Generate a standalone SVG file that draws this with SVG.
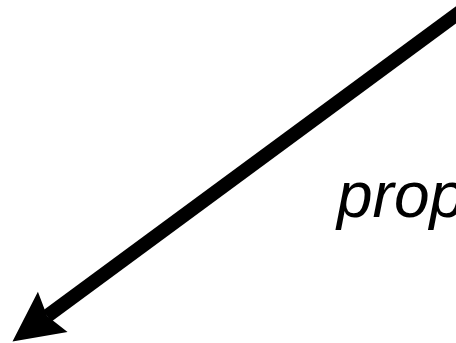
<svg xmlns="http://www.w3.org/2000/svg" width="456" height="343" viewBox="0 0 456 343">
  <style>
    .edge { stroke: #000; stroke-width: 14; fill: none; }
    .lbl { font-family: "Liberation Sans", Arial, sans-serif; font-style: italic; font-size: 64px; fill: #000; }
  </style>
  <defs>
    <marker id="head" markerUnits="userSpaceOnUse" markerWidth="100" markerHeight="100" refX="0" refY="0" orient="auto" overflow="visible">
      <path d="M43,0 L-7,-25 L0,0 L-7,25 Z" fill="#000"/>
    </marker>
  </defs>
  <rect width="456" height="343" fill="#fff"/>
  <g id="connectors">
    <path class="edge" d="M465,8.3 L47.1,316.1" marker-end="url(#head)"/>
  </g>
  <g id="label">
    <text class="lbl" x="337" y="217">prop</text>
  </g>
</svg>
